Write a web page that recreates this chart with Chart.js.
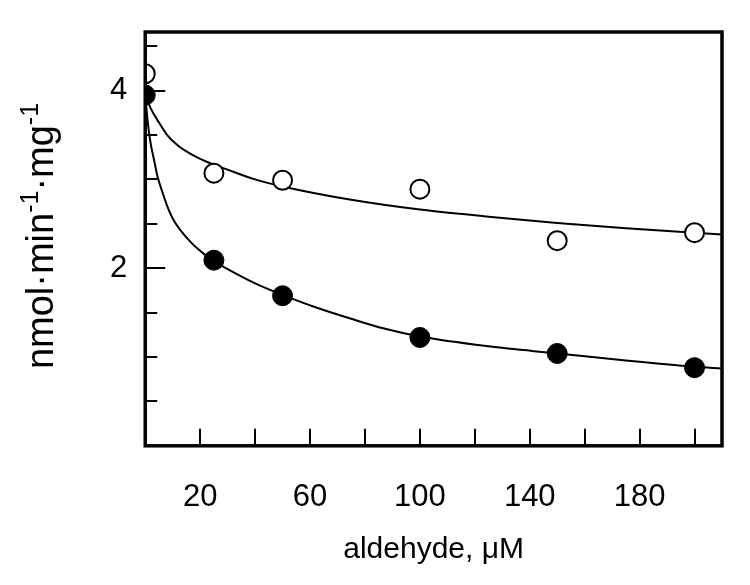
<!DOCTYPE html>
<html lang="en">
<head>
    <meta charset="UTF-8">
    <title>Aldehyde inhibition</title>
    <script src="https://cdn.jsdelivr.net/npm/chart.js"></script>
    <style>
        html, body { margin: 0; padding: 0; background: #fff; }
        #wrap { width: 750px; height: 585px; }
    </style>
</head>
<body>
    <div id="wrap"><canvas id="rateChart" width="750" height="585"></canvas></div>

    <script>
        // measured points (aldehyde, uM)
        const conc = [0, 25, 50, 100, 150, 200];
        const openRate = [4.19, 3.07, 2.99, 2.89, 2.31, 2.40];
        const filledRate = [3.95, 2.09, 1.69, 1.22, 1.04, 0.88];

        // fitted curves
        const openFitX = [0, 2, 5, 8, 12, 17, 23, 30, 40, 50, 75, 100, 125, 150, 175, 200, 210];
        const openFitY = [3.95, 3.80, 3.64, 3.50, 3.38, 3.28, 3.19, 3.11, 3.00, 2.92, 2.77, 2.66, 2.58, 2.51, 2.45, 2.40, 2.38];
        const filledFitX = [0, 1, 2, 3, 4.5, 6, 8, 10, 13, 17, 21, 25, 30, 40, 50, 62, 75, 87, 100, 125, 150, 175, 200, 210];
        const filledFitY = [3.95, 3.62, 3.40, 3.25, 3.03, 2.88, 2.70, 2.56, 2.42, 2.28, 2.17, 2.08, 1.99, 1.83, 1.70, 1.56, 1.43, 1.32, 1.23, 1.12, 1.04, 0.96, 0.89, 0.87];

        // axis ticks
        const xTicks = [20, 40, 60, 80, 100, 120, 140, 160, 180, 200];
        const xLabels = [20, 60, 100, 140, 180];
        const yTicks = [0.5, 1, 1.5, 2, 2.5, 3, 3.5, 4, 4.5];
        const yLabels = [2, 4];

        const font = "'Liberation Sans', Arial, sans-serif";
        const pairs = (xs, ys) => xs.map((x, i) => ({ x: x, y: ys[i] }));

        // box frame plus inward tick marks
        const frame = {
            id: 'frame',
            afterDraw(chart) {
                const c = chart.ctx, a = chart.chartArea;
                const xs = chart.scales.x, ys = chart.scales.y;
                c.save();
                c.strokeStyle = '#000';
                c.lineWidth = 2;
                xTicks.forEach(v => {
                    const px = Math.round(xs.getPixelForValue(v));
                    c.beginPath(); c.moveTo(px, a.bottom); c.lineTo(px, a.bottom - 17); c.stroke();
                });
                yTicks.forEach(v => {
                    const py = Math.round(ys.getPixelForValue(v));
                    const len = yLabels.includes(v) ? 20 : 12;
                    c.beginPath(); c.moveTo(a.left, py); c.lineTo(a.left + len, py); c.stroke();
                });
                c.lineWidth = 3.5;
                c.strokeRect(a.left, a.top, a.right - a.left, a.bottom - a.top);
                c.restore();
            }
        };

        // axis titles (y one needs real superscripts)
        const titles = {
            id: 'titles',
            afterDraw(chart) {
                const c = chart.ctx, a = chart.chartArea;
                c.save();
                c.fillStyle = '#000';
                c.font = 'normal 30px ' + font;
                c.textAlign = 'center';
                c.textBaseline = 'middle';
                c.fillText('aldehyde, \u03bcM', (a.left + a.right) / 2, 550);

                const big = 'normal 38px ' + font, small = 'normal 25px ' + font;
                const parts = [['nmol\u00b7min', big, 0], ['-1', small, -15], ['\u00b7mg', big, 0], ['-1', small, -15]];
                let total = 0;
                parts.forEach(p => { c.font = p[1]; total += c.measureText(p[0]).width; });
                c.translate(53, 236);
                c.rotate(-Math.PI / 2);
                c.textAlign = 'left';
                c.textBaseline = 'alphabetic';
                let x = -total / 2;
                parts.forEach(p => {
                    c.font = p[1];
                    c.fillText(p[0], x, p[2]);
                    x += c.measureText(p[0]).width;
                });
                c.restore();
            }
        };

        new Chart(document.getElementById('rateChart'), {
            type: 'scatter',
            data: {
                datasets: [
                    {
                        label: 'open',
                        data: pairs(conc, openRate),
                        backgroundColor: '#fff',
                        borderColor: '#000',
                        borderWidth: 2,
                        pointRadius: 9.5,
                        order: 0
                    },
                    {
                        label: 'filled',
                        data: pairs(conc, filledRate),
                        backgroundColor: '#000',
                        borderColor: '#000',
                        borderWidth: 1,
                        pointRadius: 10,
                        order: 0
                    },
                    {
                        label: 'open fit',
                        data: pairs(openFitX, openFitY),
                        showLine: true,
                        borderColor: '#000',
                        borderWidth: 2,
                        pointRadius: 0,
                        cubicInterpolationMode: 'monotone',
                        order: 1
                    },
                    {
                        label: 'filled fit',
                        data: pairs(filledFitX, filledFitY),
                        showLine: true,
                        borderColor: '#000',
                        borderWidth: 2,
                        pointRadius: 0,
                        cubicInterpolationMode: 'monotone',
                        order: 1
                    }
                ]
            },
            options: {
                responsive: false,
                animation: false,
                events: [],
                layout: { padding: { left: 92, right: 28, top: 32, bottom: 36 } },
                plugins: { legend: { display: false }, tooltip: { enabled: false } },
                scales: {
                    x: {
                        type: 'linear',
                        min: 0,
                        max: 210,
                        afterBuildTicks: s => { s.ticks = xTicks.map(v => ({ value: v })); },
                        grid: { display: false, drawTicks: false },
                        border: { display: false },
                        ticks: {
                            autoSkip: false,
                            maxRotation: 0,
                            padding: 33,
                            color: '#000',
                            font: { family: font, size: 31 },
                            callback: v => xLabels.includes(v) ? String(v) : ''
                        }
                    },
                    y: {
                        type: 'linear',
                        min: 0,
                        max: 4.66,
                        afterBuildTicks: s => { s.ticks = yTicks.map(v => ({ value: v })); },
                        afterFit: s => { s.paddingTop = 0; },
                        grid: { display: false, drawTicks: false },
                        border: { display: false },
                        ticks: {
                            autoSkip: false,
                            padding: 18,
                            color: '#000',
                            font: { family: font, size: 31 },
                            callback: v => yLabels.includes(v) ? String(v) : ''
                        }
                    }
                }
            },
            plugins: [frame, titles]
        });
    </script>
</body>
</html>
